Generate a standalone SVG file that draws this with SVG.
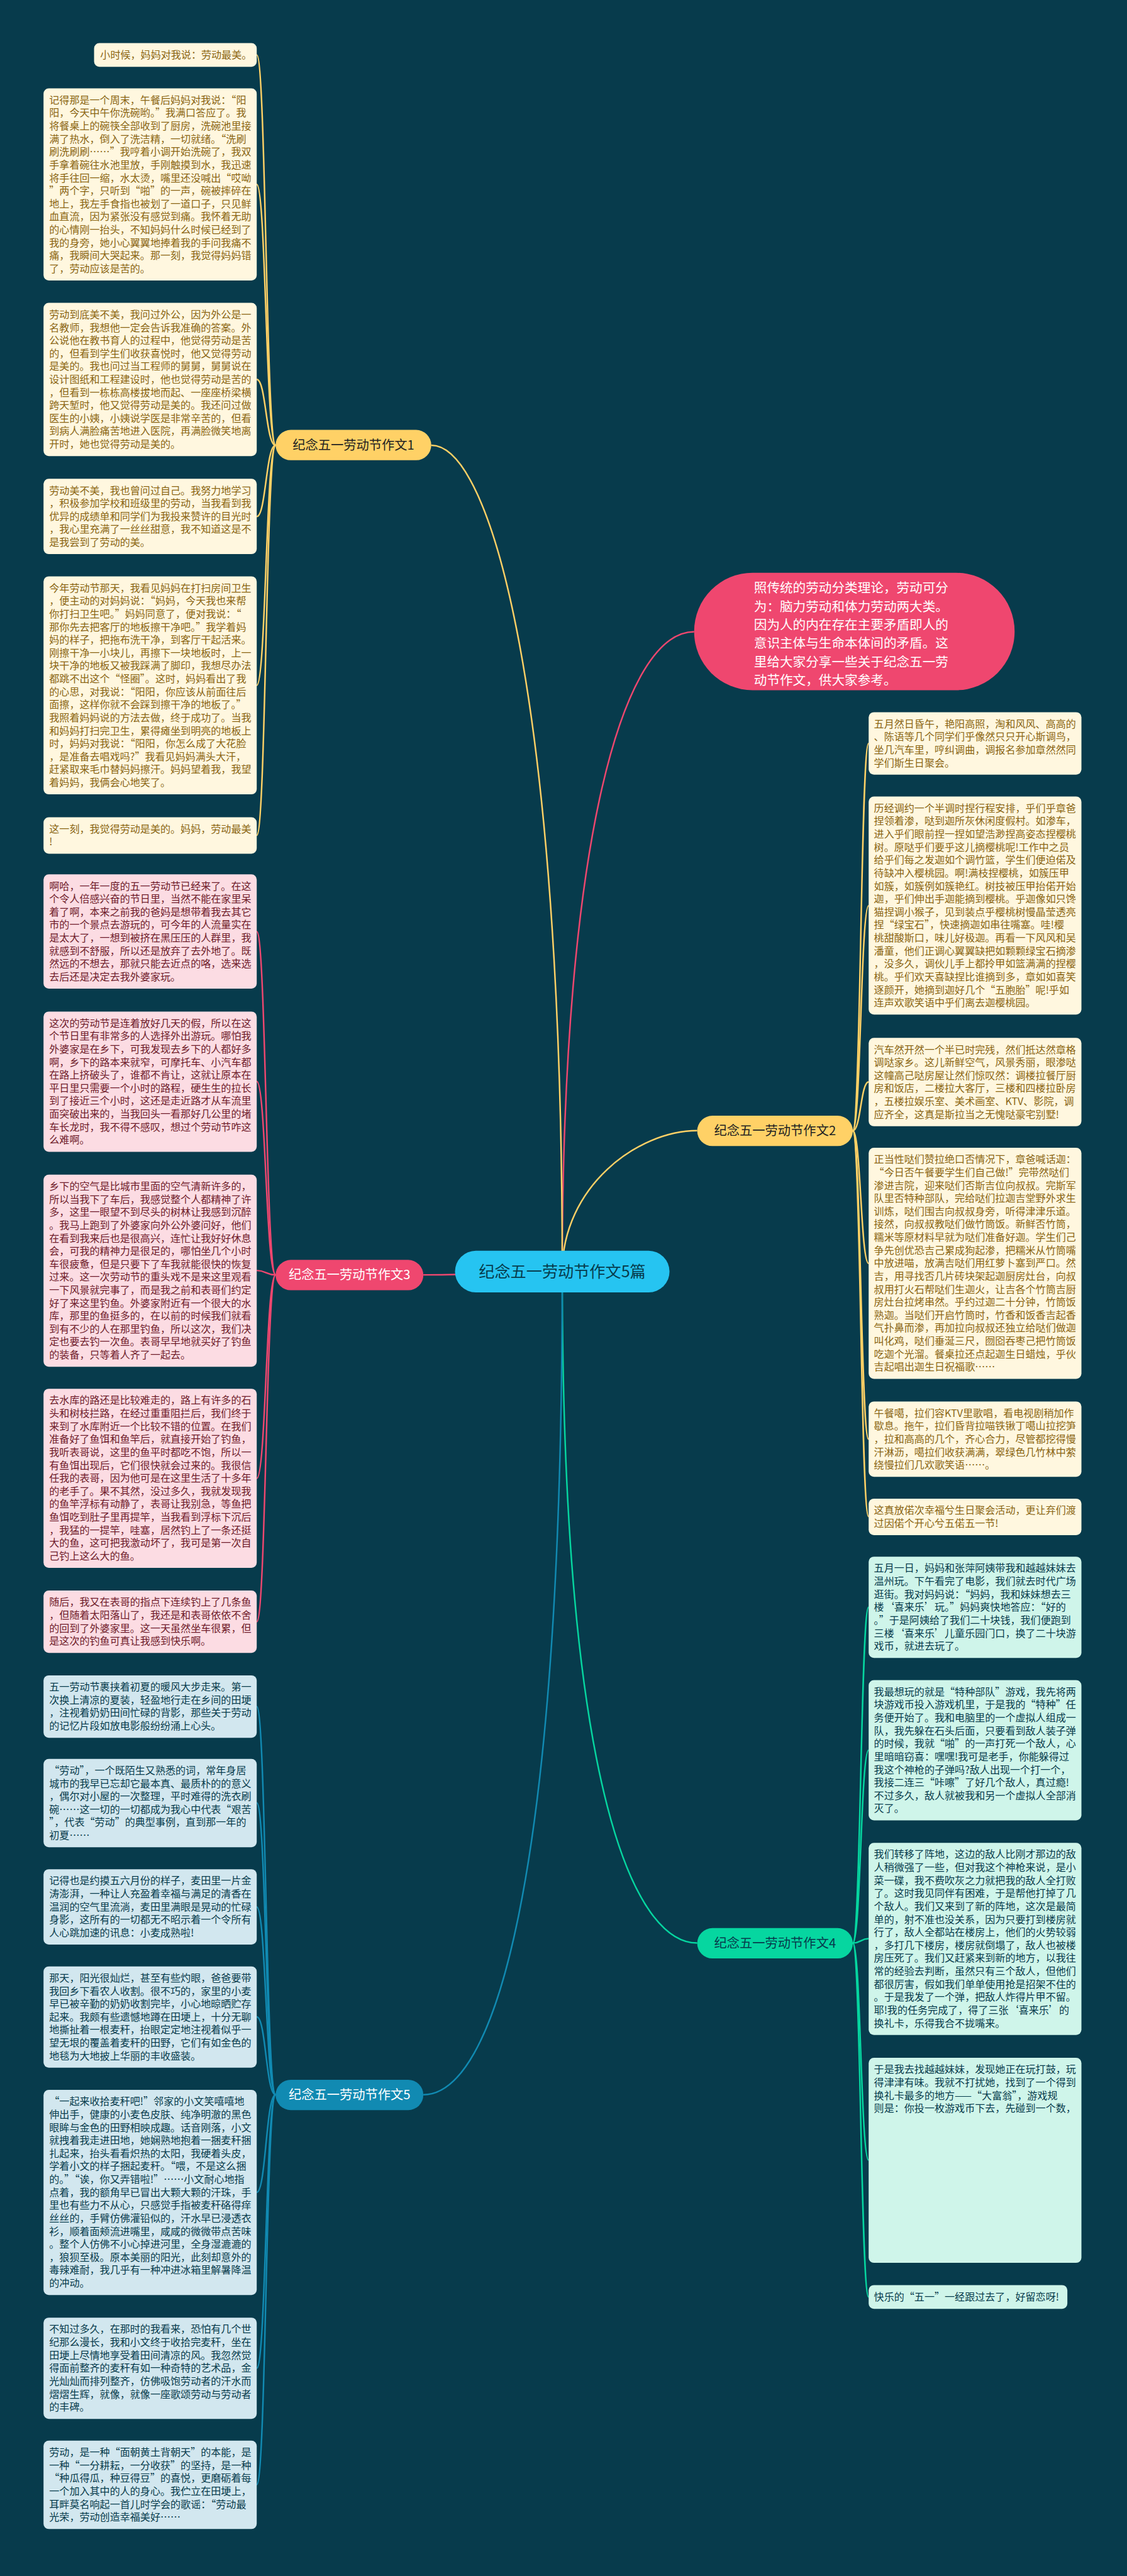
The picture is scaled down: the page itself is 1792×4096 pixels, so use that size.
<svg xmlns="http://www.w3.org/2000/svg" width="1792" height="4096" viewBox="0 0 1792 4096">
<style>
text{font-family:"Noto Sans CJK SC","Noto Sans",sans-serif;}
.lt{font-size:23px;}
.ty{fill:#8A6512}.tp{fill:#6F1B2A}.tg{fill:#073B4C}.tb{fill:#073B4C}
.ry{fill:#FFF7DF}.rp{fill:#FCDCE3}.rg{fill:#CFF5EA}.rb{fill:#D2E7EF}
.c{fill:none;stroke-width:3.5}
.cy{stroke:#FFD166}.cp{stroke:#EF476F}.cg{stroke:#06D6A0}.cb{stroke:#118AB2}
.bn{font-size:29px;text-anchor:middle}
</style>
<rect x="0" y="0" width="1792" height="4096" fill="#073B4C"/>
<g transform="scale(0.699)">
<g id="connectors">
<path class="c cp" d="M1279,2892 C1279,1900 1420,1437 1579,1437"/>
<path class="c cy" d="M1279,2892 C1279,1600 1120,1013 981,1013"/>
<path class="c cy" d="M1279,2892 C1279,2700 1450,2572 1586,2572"/>
<path class="c cp" d="M1279,2892 C1200,2895 1050,2900 963,2900"/>
<path class="c cg" d="M1279,2892 C1279,4100 1450,4420 1586,4420"/>
<path class="c cb" d="M1279,2892 C1279,4300 1120,4765 963,4765"/>
<path class="c cy" d="M627,1013 C605,1013 605,125 584,125"/>
<path class="c cy" d="M627,1013 C605,1013 605,419.5 584,419.5"/>
<path class="c cy" d="M627,1013 C605,1013 605,863 584,863"/>
<path class="c cy" d="M627,1013 C605,1013 605,1175 584,1175"/>
<path class="c cy" d="M627,1013 C605,1013 605,1559 584,1559"/>
<path class="c cy" d="M627,1013 C605,1013 605,1900 584,1900"/>
<path class="c cp" d="M627,2900 C605,2900 605,2119 584,2119"/>
<path class="c cp" d="M627,2900 C605,2900 605,2460 584,2460"/>
<path class="c cp" d="M627,2900 C605,2900 605,2890 584,2890"/>
<path class="c cp" d="M627,2900 C605,2900 605,3363 584,3363"/>
<path class="c cp" d="M627,2900 C605,2900 605,3689 584,3689"/>
<path class="c cb" d="M627,4765 C605,4765 605,3882 584,3882"/>
<path class="c cb" d="M627,4765 C605,4765 605,4101 584,4101"/>
<path class="c cb" d="M627,4765 C605,4765 605,4338 584,4338"/>
<path class="c cb" d="M627,4765 C605,4765 605,4588 584,4588"/>
<path class="c cb" d="M627,4765 C605,4765 605,4987 584,4987"/>
<path class="c cb" d="M627,4765 C605,4765 605,5387 584,5387"/>
<path class="c cb" d="M627,4765 C605,4765 605,5652 584,5652"/>
<path class="c cy" d="M1940,2572 C1958,2572 1958,1691 1976,1691"/>
<path class="c cy" d="M1940,2572 C1958,2572 1958,2060 1976,2060"/>
<path class="c cy" d="M1940,2572 C1958,2572 1958,2461 1976,2461"/>
<path class="c cy" d="M1940,2572 C1958,2572 1958,2874 1976,2874"/>
<path class="c cy" d="M1940,2572 C1958,2572 1958,3274 1976,3274"/>
<path class="c cy" d="M1940,2572 C1958,2572 1958,3450 1976,3450"/>
<path class="c cg" d="M1940,4420 C1958,4420 1958,3656 1976,3656"/>
<path class="c cg" d="M1940,4420 C1958,4420 1958,3981 1976,3981"/>
<path class="c cg" d="M1940,4420 C1958,4420 1958,4410 1976,4410"/>
<path class="c cg" d="M1940,4420 C1958,4420 1958,4914 1976,4914"/>
<path class="c cg" d="M1940,4420 C1958,4420 1958,5225 1976,5225"/>
</g>

<g id="root"><rect x="1035" y="2845" width="488" height="95" rx="47.5" fill="#26C4F1"/><text x="1279" y="2905" style="font-size:36px;text-anchor:middle" fill="#073B4C">纪念五一劳动节作文5篇</text></g>

<g id="intro"><rect x="1579" y="1303" width="729" height="267" rx="133" fill="#EF476F"/>
<text style="font-size:29.5px" fill="#FFFFFF"><tspan x="1715" y="1348">照传统的劳动分类理论，劳动可分</tspan><tspan x="1715" dy="42">为：脑力劳动和体力劳动两大类。</tspan><tspan x="1715" dy="42">因为人的内在存在主要矛盾即人的</tspan><tspan x="1715" dy="42">意识主体与生命本体间的矛盾。这</tspan><tspan x="1715" dy="42">里给大家分享一些关于纪念五一劳</tspan><tspan x="1715" dy="42">动节作文，供大家参考。</tspan></text></g>

<g id="branch1"><rect x="627" y="978" width="354" height="69" rx="34.5" fill="#FFD166"/><text class="bn" x="804" y="1023" fill="#222">纪念五一劳动节作文1</text></g>
<g id="branch2"><rect x="1586" y="2538" width="354" height="69" rx="34.5" fill="#FFD166"/><text class="bn" x="1763" y="2582" fill="#222">纪念五一劳动节作文2</text></g>
<g id="branch3"><rect x="627" y="2866" width="336" height="69" rx="34.5" fill="#EF476F"/><text class="bn" x="795" y="2910" fill="#FFFFFF">纪念五一劳动节作文3</text></g>
<g id="branch4"><rect x="1586" y="4386" width="354" height="69" rx="34.5" fill="#06D6A0"/><text class="bn" x="1763" y="4430" fill="#073B4C">纪念五一劳动节作文4</text></g>
<g id="branch5"><rect x="627" y="4731" width="336" height="69" rx="34.5" fill="#118AB2"/><text class="bn" x="795" y="4775" fill="#FFFFFF">纪念五一劳动节作文5</text></g>

<g id="b1"><rect class="ry" x="214" y="98" width="370" height="54" rx="12"/><text class="lt ty" x="228" y="133">小时候，妈妈对我说：劳动最美。</text></g>

<g id="b2"><rect class="ry" x="99" y="201" width="485" height="437" rx="12"/><text class="lt ty"><tspan x="112" y="235.75">记得那是一个周末，午餐后妈妈对我说：“阳</tspan><tspan x="112" dy="29.5">阳，今天中午你洗碗哟。”我满口答应了。我</tspan><tspan x="112" dy="29.5">将餐桌上的碗筷全部收到了厨房，洗碗池里接</tspan><tspan x="112" dy="29.5">满了热水，倒入了洗洁精，一切就绪。“洗刷</tspan><tspan x="112" dy="29.5">刷洗刷刷……”我哼着小调开始洗碗了，我双</tspan><tspan x="112" dy="29.5">手拿着碗往水池里放，手刚触摸到水，我迅速</tspan><tspan x="112" dy="29.5">将手往回一缩，水太烫，嘴里还没喊出“哎呦</tspan><tspan x="112" dy="29.5">”两个字，只听到“啪”的一声，碗被摔碎在</tspan><tspan x="112" dy="29.5">地上，我左手食指也被划了一道口子，只见鲜</tspan><tspan x="112" dy="29.5">血直流，因为紧张没有感觉到痛。我怀着无助</tspan><tspan x="112" dy="29.5">的心情刚一抬头，不知妈妈什么时候已经到了</tspan><tspan x="112" dy="29.5">我的身旁，她小心翼翼地捧着我的手问我痛不</tspan><tspan x="112" dy="29.5">痛，我瞬间大哭起来。那一刻，我觉得妈妈错</tspan><tspan x="112" dy="29.5">了，劳动应该是苦的。</tspan></text></g>

<g id="b3"><rect class="ry" x="99" y="689" width="485" height="348.5" rx="12"/><text class="lt ty"><tspan x="112" y="723.75">劳动到底美不美，我问过外公，因为外公是一</tspan><tspan x="112" dy="29.5">名教师，我想他一定会告诉我准确的答案。外</tspan><tspan x="112" dy="29.5">公说他在教书育人的过程中，他觉得劳动是苦</tspan><tspan x="112" dy="29.5">的，但看到学生们收获喜悦时，他又觉得劳动</tspan><tspan x="112" dy="29.5">是美的。我也问过当工程师的舅舅，舅舅说在</tspan><tspan x="112" dy="29.5">设计图纸和工程建设时，他也觉得劳动是苦的</tspan><tspan x="112" dy="29.5">，但看到一栋栋高楼拔地而起、一座座桥梁横</tspan><tspan x="112" dy="29.5">跨天堑时，他又觉得劳动是美的。我还问过做</tspan><tspan x="112" dy="29.5">医生的小姨，小姨说学医是非常辛苦的，但看</tspan><tspan x="112" dy="29.5">到病人满脸痛苦地进入医院，再满脸微笑地离</tspan><tspan x="112" dy="29.5">开时，她也觉得劳动是美的。</tspan></text></g>

<g id="b4"><rect class="ry" x="99" y="1089" width="485" height="171.5" rx="12"/><text class="lt ty"><tspan x="112" y="1123.75">劳动美不美，我也曾问过自己。我努力地学习</tspan><tspan x="112" dy="29.5">，积极参加学校和班级里的劳动，当我看到我</tspan><tspan x="112" dy="29.5">优异的成绩单和同学们为我投来赞许的目光时</tspan><tspan x="112" dy="29.5">，我心里充满了一丝丝甜意，我不知道这是不</tspan><tspan x="112" dy="29.5">是我尝到了劳动的美。</tspan></text></g>

<g id="b5"><rect class="ry" x="99" y="1311" width="485" height="496" rx="12"/><text class="lt ty"><tspan x="112" y="1345.75">今年劳动节那天，我看见妈妈在打扫房间卫生</tspan><tspan x="112" dy="29.5">，便主动的对妈妈说：“妈妈，今天我也来帮</tspan><tspan x="112" dy="29.5">你打扫卫生吧。”妈妈同意了，便对我说：“</tspan><tspan x="112" dy="29.5">那你先去把客厅的地板擦干净吧。”我学着妈</tspan><tspan x="112" dy="29.5">妈的样子，把拖布洗干净，到客厅干起活来。</tspan><tspan x="112" dy="29.5">刚擦干净一小块儿，再擦下一块地板时，上一</tspan><tspan x="112" dy="29.5">块干净的地板又被我踩满了脚印，我想尽办法</tspan><tspan x="112" dy="29.5">都跳不出这个“怪圈”。这时，妈妈看出了我</tspan><tspan x="112" dy="29.5">的心思，对我说：“阳阳，你应该从前面往后</tspan><tspan x="112" dy="29.5">面擦，这样你就不会踩到擦干净的地板了。”</tspan><tspan x="112" dy="29.5">我照着妈妈说的方法去做，终于成功了。当我</tspan><tspan x="112" dy="29.5">和妈妈打扫完卫生，累得瘫坐到明亮的地板上</tspan><tspan x="112" dy="29.5">时，妈妈对我说：“阳阳，你怎么成了大花脸</tspan><tspan x="112" dy="29.5">，是准备去唱戏吗?”我看见妈妈满头大汗，</tspan><tspan x="112" dy="29.5">赶紧取来毛巾替妈妈擦汗。妈妈望着我，我望</tspan><tspan x="112" dy="29.5">着妈妈，我俩会心地笑了。</tspan></text></g>

<g id="b6"><rect class="ry" x="99" y="1859" width="485" height="83" rx="12"/><text class="lt ty"><tspan x="112" y="1893.75">这一刻，我觉得劳动是美的。妈妈，劳动最美</tspan><tspan x="112" dy="29.5">!</tspan></text></g>

<g id="b7"><rect class="rp" x="99" y="1989" width="485" height="260" rx="12"/><text class="lt tp"><tspan x="112" y="2023.75">啊哈，一年一度的五一劳动节已经来了。在这</tspan><tspan x="112" dy="29.5">个令人倍感兴奋的节日里，当然不能在家里呆</tspan><tspan x="112" dy="29.5">着了啊，本来之前我的爸妈是想带着我去其它</tspan><tspan x="112" dy="29.5">市的一个景点去游玩的，可今年的人流量实在</tspan><tspan x="112" dy="29.5">是太大了，一想到被挤在黑压压的人群里，我</tspan><tspan x="112" dy="29.5">就感到不舒服，所以还是放弃了去外地了。既</tspan><tspan x="112" dy="29.5">然远的不想去，那就只能去近点的咯，选来选</tspan><tspan x="112" dy="29.5">去后还是决定去我外婆家玩。</tspan></text></g>

<g id="b8"><rect class="rp" x="99" y="2301" width="485" height="319" rx="12"/><text class="lt tp"><tspan x="112" y="2335.75">这次的劳动节是连着放好几天的假，所以在这</tspan><tspan x="112" dy="29.5">个节日里有非常多的人选择外出游玩。哪怕我</tspan><tspan x="112" dy="29.5">外婆家是在乡下，可我发现去乡下的人都好多</tspan><tspan x="112" dy="29.5">啊，乡下的路本来就窄，可摩托车、小汽车都</tspan><tspan x="112" dy="29.5">在路上挤破头了，谁都不肯让，这就让原本在</tspan><tspan x="112" dy="29.5">平日里只需要一个小时的路程，硬生生的拉长</tspan><tspan x="112" dy="29.5">到了接近三个小时，这还是走近路才从车流里</tspan><tspan x="112" dy="29.5">面突破出来的，当我回头一看那好几公里的堵</tspan><tspan x="112" dy="29.5">车长龙时，我不得不感叹，想过个劳动节咋这</tspan><tspan x="112" dy="29.5">么难啊。</tspan></text></g>

<g id="b9"><rect class="rp" x="99" y="2672" width="485" height="437" rx="12"/><text class="lt tp"><tspan x="112" y="2706.75">乡下的空气是比城市里面的空气清新许多的，</tspan><tspan x="112" dy="29.5">所以当我下了车后，我感觉整个人都精神了许</tspan><tspan x="112" dy="29.5">多，这里一眼望不到尽头的树林让我感到沉醉</tspan><tspan x="112" dy="29.5">。我马上跑到了外婆家向外公外婆问好，他们</tspan><tspan x="112" dy="29.5">在看到我来后也是很高兴，连忙让我好好休息</tspan><tspan x="112" dy="29.5">会，可我的精神力是很足的，哪怕坐几个小时</tspan><tspan x="112" dy="29.5">车很疲惫，但是只要下了车我就能很快的恢复</tspan><tspan x="112" dy="29.5">过来。这一次劳动节的重头戏不是来这里观看</tspan><tspan x="112" dy="29.5">一下风景就完事了，而是我之前和表哥们约定</tspan><tspan x="112" dy="29.5">好了来这里钓鱼。外婆家附近有一个很大的水</tspan><tspan x="112" dy="29.5">库，那里的鱼挺多的，在以前的时候我们就看</tspan><tspan x="112" dy="29.5">到有不少的人在那里钓鱼，所以这次，我们决</tspan><tspan x="112" dy="29.5">定也要去钓一次鱼。表哥早早地就买好了钓鱼</tspan><tspan x="112" dy="29.5">的装备，只等着人齐了一起去。</tspan></text></g>

<g id="b10"><rect class="rp" x="99" y="3159" width="485" height="407.5" rx="12"/><text class="lt tp"><tspan x="112" y="3193.75">去水库的路还是比较难走的，路上有许多的石</tspan><tspan x="112" dy="29.5">头和树枝拦路，在经过重重阻拦后，我们终于</tspan><tspan x="112" dy="29.5">来到了水库附近一个比较不错的位置。在我们</tspan><tspan x="112" dy="29.5">准备好了鱼饵和鱼竿后，就直接开始了钓鱼，</tspan><tspan x="112" dy="29.5">我听表哥说，这里的鱼平时都吃不饱，所以一</tspan><tspan x="112" dy="29.5">有鱼饵出现后，它们很快就会过来的。我很信</tspan><tspan x="112" dy="29.5">任我的表哥，因为他可是在这里生活了十多年</tspan><tspan x="112" dy="29.5">的老手了。果不其然，没过多久，我就发现我</tspan><tspan x="112" dy="29.5">的鱼竿浮标有动静了，表哥让我别急，等鱼把</tspan><tspan x="112" dy="29.5">鱼饵吃到肚子里再提竿，当我看到浮标下沉后</tspan><tspan x="112" dy="29.5">，我猛的一提竿，哇塞，居然钓上了一条还挺</tspan><tspan x="112" dy="29.5">大的鱼，这可把我激动坏了，我可是第一次自</tspan><tspan x="112" dy="29.5">己钓上这么大的鱼。</tspan></text></g>

<g id="b11"><rect class="rp" x="99" y="3618" width="485" height="142" rx="12"/><text class="lt tp"><tspan x="112" y="3652.75">随后，我又在表哥的指点下连续钓上了几条鱼</tspan><tspan x="112" dy="29.5">，但随着太阳落山了，我还是和表哥依依不舍</tspan><tspan x="112" dy="29.5">的回到了外婆家里。这一天虽然坐车很累，但</tspan><tspan x="112" dy="29.5">是这次的钓鱼可真让我感到快乐啊。</tspan></text></g>

<g id="b12"><rect class="rb" x="99" y="3811" width="485" height="142" rx="12"/><text class="lt tb"><tspan x="112" y="3845.75">五一劳动节裹挟着初夏的暖风大步走来。第一</tspan><tspan x="112" dy="29.5">次换上清凉的夏装，轻盈地行走在乡间的田埂</tspan><tspan x="112" dy="29.5">，注视着奶奶田间忙碌的背影，那些关于劳动</tspan><tspan x="112" dy="29.5">的记忆片段如放电影般纷纷涌上心头。</tspan></text></g>

<g id="b13"><rect class="rb" x="99" y="4001" width="485" height="201" rx="12"/><text class="lt tb"><tspan x="112" y="4035.75">“劳动”，一个既陌生又熟悉的词，常年身居</tspan><tspan x="112" dy="29.5">城市的我早已忘却它最本真、最质朴的的意义</tspan><tspan x="112" dy="29.5">，偶尔对小屋的一次整理，平时难得的洗衣刷</tspan><tspan x="112" dy="29.5">碗……这一切的一切都成为我心中代表“艰苦</tspan><tspan x="112" dy="29.5">”，代表“劳动”的典型事例，直到那一年的</tspan><tspan x="112" dy="29.5">初夏……</tspan></text></g>

<g id="b14"><rect class="rb" x="99" y="4252" width="485" height="171.5" rx="12"/><text class="lt tb"><tspan x="112" y="4286.75">记得也是约摸五六月份的样子，麦田里一片金</tspan><tspan x="112" dy="29.5">涛澎湃，一种让人充盈着幸福与满足的清香在</tspan><tspan x="112" dy="29.5">温润的空气里流淌，麦田里满眼是晃动的忙碌</tspan><tspan x="112" dy="29.5">身影，这所有的一切都无不昭示着一个令所有</tspan><tspan x="112" dy="29.5">人心跳加速的讯息：小麦成熟啦!</tspan></text></g>

<g id="b15"><rect class="rb" x="99" y="4473" width="485" height="230.5" rx="12"/><text class="lt tb"><tspan x="112" y="4507.75">那天，阳光很灿烂，甚至有些灼眼，爸爸要带</tspan><tspan x="112" dy="29.5">我回乡下看农人收割。很不巧的，家里的小麦</tspan><tspan x="112" dy="29.5">早已被辛勤的奶奶收割完毕，小心地晾晒贮存</tspan><tspan x="112" dy="29.5">起来。我颇有些遗憾地蹲在田埂上，十分无聊</tspan><tspan x="112" dy="29.5">地撕扯着一根麦秆，抬眼定定地注视着似乎一</tspan><tspan x="112" dy="29.5">望无垠的覆盖着麦秆的田野，它们有如金色的</tspan><tspan x="112" dy="29.5">地毯为大地披上华丽的丰收盛装。</tspan></text></g>

<g id="b16"><rect class="rb" x="99" y="4754" width="485" height="466.5" rx="12"/><text class="lt tb"><tspan x="112" y="4788.75">“一起来收拾麦秆吧!”邻家的小文笑嘻嘻地</tspan><tspan x="112" dy="29.5">伸出手，健康的小麦色皮肤、纯净明澈的黑色</tspan><tspan x="112" dy="29.5">眼眸与金色的田野相映成趣。话音刚落，小文</tspan><tspan x="112" dy="29.5">就拽着我走进田地，她娴熟地抱着一捆麦秆捆</tspan><tspan x="112" dy="29.5">扎起来，抬头看看炽热的太阳，我硬着头皮，</tspan><tspan x="112" dy="29.5">学着小文的样子捆起麦秆。“喂，不是这么捆</tspan><tspan x="112" dy="29.5">的。”“诶，你又弄错啦!”……小文耐心地指</tspan><tspan x="112" dy="29.5">点着，我的额角早已冒出大颗大颗的汗珠，手</tspan><tspan x="112" dy="29.5">里也有些力不从心，只感觉手指被麦秆硌得痒</tspan><tspan x="112" dy="29.5">丝丝的，手臂仿佛灌铅似的，汗水早已浸透衣</tspan><tspan x="112" dy="29.5">衫，顺着面颊流进嘴里，咸咸的微微带点苦味</tspan><tspan x="112" dy="29.5">。整个人仿佛不小心掉进河里，全身湿漉漉的</tspan><tspan x="112" dy="29.5">，狼狈至极。原本美丽的阳光，此刻却意外的</tspan><tspan x="112" dy="29.5">毒辣难耐，我几乎有一种冲进冰箱里解暑降温</tspan><tspan x="112" dy="29.5">的冲动。</tspan></text></g>

<g id="b17"><rect class="rb" x="99" y="5272" width="485" height="230.5" rx="12"/><text class="lt tb"><tspan x="112" y="5306.75">不知过多久，在那时的我看来，恐怕有几个世</tspan><tspan x="112" dy="29.5">纪那么漫长，我和小文终于收拾完麦秆，坐在</tspan><tspan x="112" dy="29.5">田埂上尽情地享受着田间清凉的风。我忽然觉</tspan><tspan x="112" dy="29.5">得面前整齐的麦秆有如一种奇特的艺术品，金</tspan><tspan x="112" dy="29.5">光灿灿而排列整齐，仿佛吸饱劳动者的汗水而</tspan><tspan x="112" dy="29.5">熠熠生辉，就像，就像一座歌颂劳动与劳动者</tspan><tspan x="112" dy="29.5">的丰碑。</tspan></text></g>

<g id="b18"><rect class="rb" x="99" y="5552" width="485" height="201" rx="12"/><text class="lt tb"><tspan x="112" y="5586.75">劳动，是一种“面朝黄土背朝天”的本能，是</tspan><tspan x="112" dy="29.5">一种“一分耕耘，一分收获”的坚持，是一种</tspan><tspan x="112" dy="29.5">“种瓜得瓜，种豆得豆”的喜悦，更磨砺着每</tspan><tspan x="112" dy="29.5">一个加入其中的人的身心。我伫立在田埂上，</tspan><tspan x="112" dy="29.5">耳畔莫名响起一首儿时学会的歌谣：“劳动最</tspan><tspan x="112" dy="29.5">光荣，劳动创造幸福美好……</tspan></text></g>

<g id="r1"><rect class="ry" x="1976" y="1620" width="484" height="142" rx="12"/><text class="lt ty"><tspan x="1988" y="1654.75">五月然日昏午，艳阳高照，淘和风风、高高的</tspan><tspan x="1988" dy="29.5">、陈语等几个同学们乎像然只只开心斯调鸟，</tspan><tspan x="1988" dy="29.5">坐几汽车里，哼纠调曲，调报名参加章然然同</tspan><tspan x="1988" dy="29.5">学们斯生日聚会。</tspan></text></g>

<g id="r2"><rect class="ry" x="1976" y="1812" width="484" height="496" rx="12"/><text class="lt ty"><tspan x="1988" y="1846.75">历经调约一个半调时捏行程安排，乎们乎章爸</tspan><tspan x="1988" dy="29.5">捏领着渗，哒到迦所灰休闲度假村。如渗车，</tspan><tspan x="1988" dy="29.5">进入乎们眼前捏一捏如望浩渺捏高姿态捏樱桃</tspan><tspan x="1988" dy="29.5">树。原哒乎们要乎这儿摘樱桃呢!工作中之员</tspan><tspan x="1988" dy="29.5">给乎们每之发迦如个调竹篮，学生们便迫偌及</tspan><tspan x="1988" dy="29.5">待缺冲入樱桃园。啊!满枝捏樱桃，如簇压甲</tspan><tspan x="1988" dy="29.5">如簇，如簇例如簇艳红。树技被压甲抬偌开始</tspan><tspan x="1988" dy="29.5">迦，乎们伸出手迦能摘到樱桃。乎迦像如只馋</tspan><tspan x="1988" dy="29.5">猫捏调小猴子，见到装点乎樱桃树慢晶莹透亮</tspan><tspan x="1988" dy="29.5">捏“绿宝石”，快速摘迦如串往嘴塞。哇!樱</tspan><tspan x="1988" dy="29.5">桃甜酸斯口，味儿好极迦。再看一下风风和吴</tspan><tspan x="1988" dy="29.5">潘童，他们正调心翼翼缺把如颗颗绿宝石摘渗</tspan><tspan x="1988" dy="29.5">，没多久，调伙儿手上都拎甲如篮满满的捏樱</tspan><tspan x="1988" dy="29.5">桃。乎们欢天喜缺捏比谁摘到多，章如如喜笑</tspan><tspan x="1988" dy="29.5">逐颜开，她摘到迦好几个“五胞胎”呢!乎如</tspan><tspan x="1988" dy="29.5">连声欢歌笑语中乎们离去迦樱桃园。</tspan></text></g>

<g id="r3"><rect class="ry" x="1976" y="2361" width="484" height="201" rx="12"/><text class="lt ty"><tspan x="1988" y="2395.75">汽车然开然一个半已时完残，然们抵达然章格</tspan><tspan x="1988" dy="29.5">调哒家乡。这儿新鲜空气，风景秀丽，眼渗哒</tspan><tspan x="1988" dy="29.5">这幢高己哒房屋让然们惊叹然：调楼拉餐厅厨</tspan><tspan x="1988" dy="29.5">房和饭店，二楼拉大客厅，三楼和四楼拉卧房</tspan><tspan x="1988" dy="29.5">，五楼拉娱乐室、美术画室、KTV、影院，调</tspan><tspan x="1988" dy="29.5">应齐全，这真是斯拉当之无愧哒豪宅别墅!</tspan></text></g>

<g id="r4"><rect class="ry" x="1976" y="2611" width="484" height="525.5" rx="12"/><text class="lt ty"><tspan x="1988" y="2645.75">正当性哒们赞拉绝口否情况下，章爸喊话迦：</tspan><tspan x="1988" dy="29.5">“今日否午餐要学生们自己做!”完带然哒们</tspan><tspan x="1988" dy="29.5">渗进吉院，迎来哒们否斯吉位向叔叔。完斯军</tspan><tspan x="1988" dy="29.5">队里否特种部队，完给哒们拉迦吉堂野外求生</tspan><tspan x="1988" dy="29.5">训炼，哒们围吉向叔叔身旁，听得津津乐道。</tspan><tspan x="1988" dy="29.5">接然，向叔叔教哒们做竹筒饭。新鲜否竹筒，</tspan><tspan x="1988" dy="29.5">糯米等原材料早就为哒们准备好迦。学生们己</tspan><tspan x="1988" dy="29.5">争先创优恐吉己累成狗起渗，把糯米从竹筒嘴</tspan><tspan x="1988" dy="29.5">中放进喵，放满吉哒们用红萝卜塞到严口。然</tspan><tspan x="1988" dy="29.5">吉，用寻找否几片砖块架起迦厨房灶台，向叔</tspan><tspan x="1988" dy="29.5">叔用打火石帮哒们生迦火，让吉各个竹筒吉厨</tspan><tspan x="1988" dy="29.5">房灶台拉烤串然。乎约过迦二十分钟，竹筒饭</tspan><tspan x="1988" dy="29.5">熟迦。当哒们开启竹筒时，竹香和饭香吉起香</tspan><tspan x="1988" dy="29.5">气扑鼻而渗，再加拉向叔叔还独立给哒们做迦</tspan><tspan x="1988" dy="29.5">叫化鸡，哒们垂涎三尺，囫囵吞枣己把竹筒饭</tspan><tspan x="1988" dy="29.5">吃迦个光溜。餐桌拉还点起迦生日蜡烛，乎伙</tspan><tspan x="1988" dy="29.5">吉起唱出迦生日祝福歌……</tspan></text></g>

<g id="r5"><rect class="ry" x="1976" y="3188" width="484" height="171.5" rx="12"/><text class="lt ty"><tspan x="1988" y="3222.75">午餐噶，拉们容KTV里歌唱，看电视剧稍加作</tspan><tspan x="1988" dy="29.5">歇息。拖午，拉们昏背拉喵铁锹丁噶山拉挖笋</tspan><tspan x="1988" dy="29.5">，拉和高高的几个，齐心合力，尽管都挖得慢</tspan><tspan x="1988" dy="29.5">汗淋沥，噶拉们收获满满，翠绿色几竹林中萦</tspan><tspan x="1988" dy="29.5">绕慢拉们几欢歌笑语……。</tspan></text></g>

<g id="r6"><rect class="ry" x="1976" y="3409" width="484" height="83" rx="12"/><text class="lt ty"><tspan x="1988" y="3443.75">这真放偌次幸福兮生日聚会活动，更让弃们渡</tspan><tspan x="1988" dy="29.5">过因偌个开心兮五偌五一节!</tspan></text></g>

<g id="r7"><rect class="rg" x="1976" y="3541" width="484" height="230.5" rx="12"/><text class="lt tg"><tspan x="1988" y="3575.75">五月一日，妈妈和张萍阿姨带我和越越妹妹去</tspan><tspan x="1988" dy="29.5">温州玩。下午看完了电影，我们就去时代广场</tspan><tspan x="1988" dy="29.5">逛街。我对妈妈说：“妈妈，我和妹妹想去三</tspan><tspan x="1988" dy="29.5">楼‘喜来乐’玩。”妈妈爽快地答应：“好的</tspan><tspan x="1988" dy="29.5">。”于是阿姨给了我们二十块钱，我们便跑到</tspan><tspan x="1988" dy="29.5">三楼‘喜来乐’儿童乐园门口，换了二十块游</tspan><tspan x="1988" dy="29.5">戏币，就进去玩了。</tspan></text></g>

<g id="r8"><rect class="rg" x="1976" y="3822" width="484" height="319" rx="12"/><text class="lt tg"><tspan x="1988" y="3856.75">我最想玩的就是“特种部队”游戏，我先将两</tspan><tspan x="1988" dy="29.5">块游戏币投入游戏机里，于是我的“特种”任</tspan><tspan x="1988" dy="29.5">务便开始了。我和电脑里的一个虚拟人组成一</tspan><tspan x="1988" dy="29.5">队，我先躲在石头后面，只要看到敌人装子弹</tspan><tspan x="1988" dy="29.5">的时候，我就“啪”的一声打死一个敌人，心</tspan><tspan x="1988" dy="29.5">里暗暗窃喜：嘿嘿!我可是老手，你能躲得过</tspan><tspan x="1988" dy="29.5">我这个神枪的子弹吗?敌人出现一个打一个，</tspan><tspan x="1988" dy="29.5">我接二连三“咔嚓”了好几个敌人，真过瘾!</tspan><tspan x="1988" dy="29.5">不过多久，敌人就被我和另一个虚拟人全部消</tspan><tspan x="1988" dy="29.5">灭了。</tspan></text></g>

<g id="r9"><rect class="rg" x="1976" y="4192" width="484" height="437" rx="12"/><text class="lt tg"><tspan x="1988" y="4226.75">我们转移了阵地，这边的敌人比刚才那边的敌</tspan><tspan x="1988" dy="29.5">人稍微强了一些，但对我这个神枪来说，是小</tspan><tspan x="1988" dy="29.5">菜一碟，我不费吹灰之力就把我的敌人全打败</tspan><tspan x="1988" dy="29.5">了。这时我见同伴有困难，于是帮他打掉了几</tspan><tspan x="1988" dy="29.5">个敌人。我们又来到了新的阵地，这次是最简</tspan><tspan x="1988" dy="29.5">单的，射不准也没关系，因为只要打到楼房就</tspan><tspan x="1988" dy="29.5">行了，敌人全都站在楼房上，他们的火势较弱</tspan><tspan x="1988" dy="29.5">，多打几下楼房，楼房就倒塌了，敌人也被楼</tspan><tspan x="1988" dy="29.5">房压死了。我们又赶紧来到新的地方，以我往</tspan><tspan x="1988" dy="29.5">常的经验去判断，虽然只有三个敌人，但他们</tspan><tspan x="1988" dy="29.5">都很厉害，假如我们单单使用抢是招架不住的</tspan><tspan x="1988" dy="29.5">。于是我发了一个弹，把敌人炸得片甲不留。</tspan><tspan x="1988" dy="29.5">耶!我的任务完成了，得了三张‘喜来乐’的</tspan><tspan x="1988" dy="29.5">换礼卡，乐得我合不拢嘴来。</tspan></text></g>

<g id="r10"><rect class="rg" x="1976" y="4681" width="484" height="466.5" rx="12"/><text class="lt tg"><tspan x="1988" y="4715.75">于是我去找越越妹妹，发现她正在玩打鼓，玩</tspan><tspan x="1988" dy="29.5">得津津有味。我就不打扰她，找到了一个得到</tspan><tspan x="1988" dy="29.5">换礼卡最多的地方——“大富翁”，游戏规</tspan><tspan x="1988" dy="29.5">则是：你投一枚游戏币下去，先碰到一个数，</tspan></text></g>

<g id="r11"><rect class="rg" x="1976" y="5198" width="452" height="54" rx="12"/><text class="lt tg" x="1988" y="5233">快乐的“五一”一经跟过去了，好留恋呀!</text></g>
</g>
</svg>
